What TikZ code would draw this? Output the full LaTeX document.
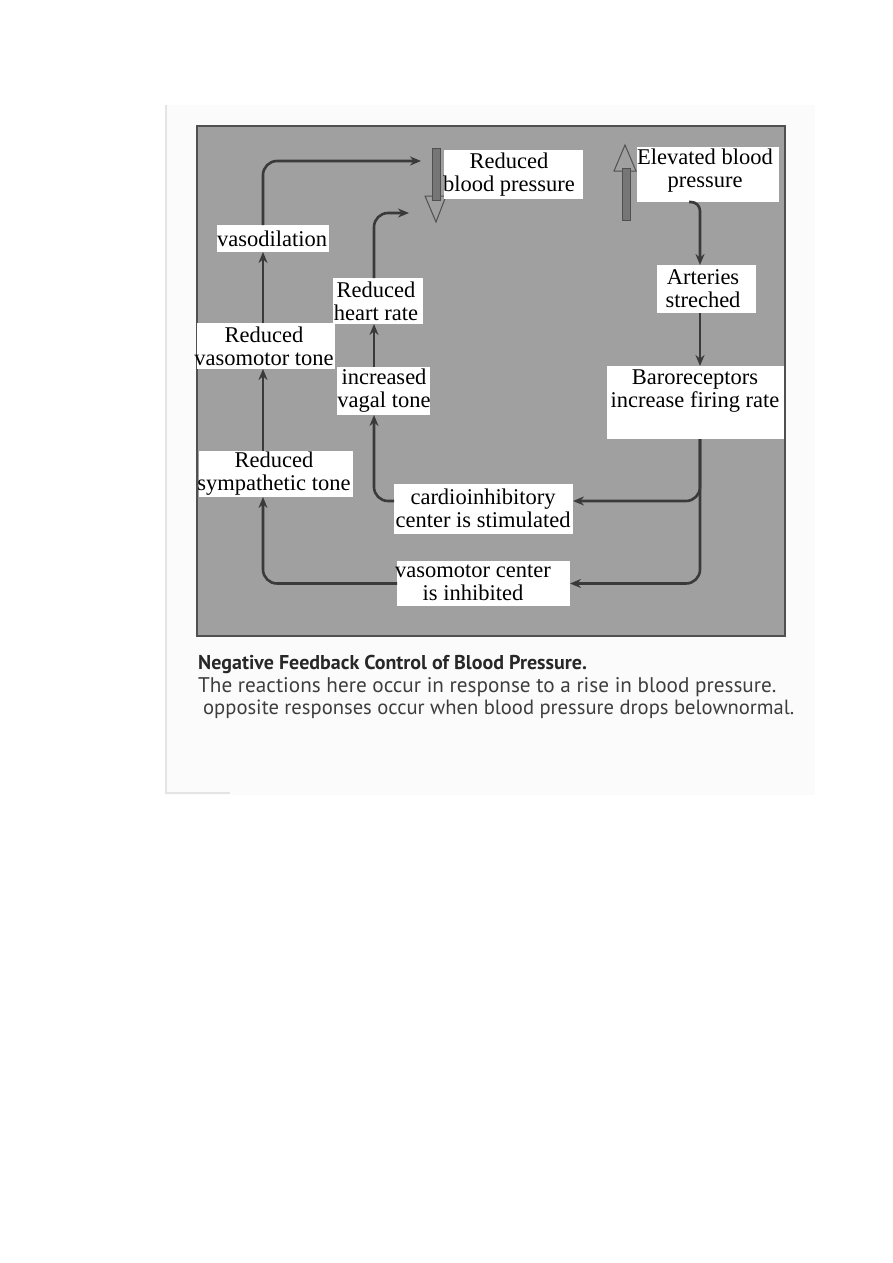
\documentclass[tikz,border=0pt]{standalone}
\usepackage{fontspec}
\setmainfont{Liberation Serif}
\newfontfamily\capfont{PT Sans}
\usetikzlibrary{arrows.meta}
\definecolor{panel}{RGB}{160,160,160}
\definecolor{panelborder}{RGB}{80,80,80}
\definecolor{linec}{RGB}{58,58,58}
\definecolor{shaft}{RGB}{118,118,118}
\definecolor{scan}{RGB}{251,251,251}
\definecolor{scanedge}{RGB}{228,228,228}
\definecolor{capdark}{RGB}{40,40,40}
\definecolor{caplight}{RGB}{62,62,62}
\tikzset{
  wbox/.style={fill=white, inner sep=0pt, outer sep=0pt},
  txt/.style={align=center, inner sep=0pt, font=\fontsize{22.5}{23}\selectfont},
  conn/.style={draw=linec, line width=2.6pt, rounded corners=14pt, -{Stealth[length=11pt,width=9pt]}},
  captxt/.style={anchor=base west, inner sep=0pt, font=\capfont\fontsize{21.2}{22}\selectfont}
}
\begin{document}
\begin{tikzpicture}[x=1pt,y=-1pt]
\useasboundingbox (0,0) rectangle (893,1263);
% scan background
\fill[scan] (165,105) rectangle (815,795);
\draw[scanedge, line width=1.2pt] (166,105) -- (166,793) -- (230,793);
% panel
\draw[panelborder, fill=panel, line width=1.5pt] (197,126) rectangle (785,636);
% block arrows
\draw[panelborder, line width=1pt, fill=panel] (425,196) -- (446,196) -- (436,222) -- cycle;
\draw[panelborder, line width=1pt, fill=shaft] (432,148) rectangle (440,200);
\draw[panelborder, line width=1pt, fill=panel] (614,171) -- (636,171) -- (625,145) -- cycle;
\draw[panelborder, line width=1pt, fill=shaft] (622,168) rectangle (630,220);
% boxes
\node[wbox, minimum width=139pt, minimum height=49pt] (rbp) at (513.5,174.5) {};
\node[txt] (rbpT) at (509,175) {Reduced\\blood pressure};
\node[wbox, minimum width=142pt, minimum height=55pt] (ebp) at (708,174.5) {};
\node[txt] (ebpT) at (705,171) {Elevated blood\\pressure};
\node[wbox, minimum width=112pt, minimum height=27pt] (vaso) at (273,238.5) {};
\node[txt] (vasoT) at (272,239) {vasodilation};
\node[wbox, minimum width=90pt, minimum height=46pt] (hr) at (378,301) {};
\node[txt] (hrT) at (376,301) {Reduced\\heart rate};
\node[wbox, minimum width=99pt, minimum height=48pt] (art) at (706.5,289) {};
\node[txt] (artT) at (703,289) {Arteries\\streched};
\node[wbox, minimum width=138pt, minimum height=46pt] (vmt) at (266,346) {};
\node[txt] (vmtT) at (264,346) {Reduced\\vasomotor tone};
\node[wbox, minimum width=93pt, minimum height=48pt] (vag) at (383.5,391) {};
\node[txt] (vagT) at (384,391) {increased\\vagal tone};
\node[wbox, minimum width=177pt, minimum height=73pt] (baro) at (695.5,402.5) {};
\node[txt] (baroT) at (695,391) {Baroreceptors\\increase firing rate};
\node[wbox, minimum width=154pt, minimum height=46pt] (sym) at (276,474) {};
\node[txt] (symT) at (274,474) {Reduced\\sympathetic tone};
\node[wbox, minimum width=179pt, minimum height=50pt] (card) at (483.5,509) {};
\node[txt] (cardT) at (483,508) {cardioinhibitory\\center is stimulated};
\node[wbox, minimum width=173pt, minimum height=45pt] (vmc) at (483.5,583.5) {};
\node[txt] (vmcT) at (473,583) {vasomotor center\\is inhibited};
% reference coordinates
\coordinate (lx) at (263,0);
\coordinate (mx) at (374,0);
\coordinate (rx) at (700,0);
\coordinate (t1) at (421,161);
\coordinate (t2) at (409,213);
\coordinate (c1) at (700,501);
\coordinate (e1) at (689,202);
% connectors
\draw[conn] (vmc.west) -| (sym.south -| lx);
\draw[conn] (sym.north -| lx) -- (vmt.south -| lx);
\draw[conn] (vmt.north -| lx) -- (vaso.south -| lx);
\draw[conn] (vaso.north -| lx) |- (t1);
\draw[conn] (card.west |- c1) -| (vag.south -| mx);
\draw[conn] (vag.north -| mx) -- (hr.south -| mx);
\draw[conn] (hr.north -| mx) |- (t2);
\draw[conn, rounded corners=9pt] (e1) -| (art.north -| rx);
\draw[conn] (art.south -| rx) -- (baro.north -| rx);
\draw[conn] (baro.south -| rx) -- (c1) -- (card.east |- c1);
\draw[conn] (baro.south -| rx) |- (vmc.east);
% caption
\node[captxt, text=capdark, font=\capfont\bfseries\fontsize{20}{22}\selectfont] (cap1) at (198,669) {Negative Feedback Control of Blood Pressure.};
\node[captxt, text=caplight] (cap2) at (198,692) {The reactions here occur in response to a rise in blood pressure.};
\node[captxt, text=caplight, font=\capfont\fontsize{20.6}{22}\selectfont] (cap3) at (203,714) {opposite responses occur when blood pressure drops belownormal.};
\end{tikzpicture}
\end{document}
